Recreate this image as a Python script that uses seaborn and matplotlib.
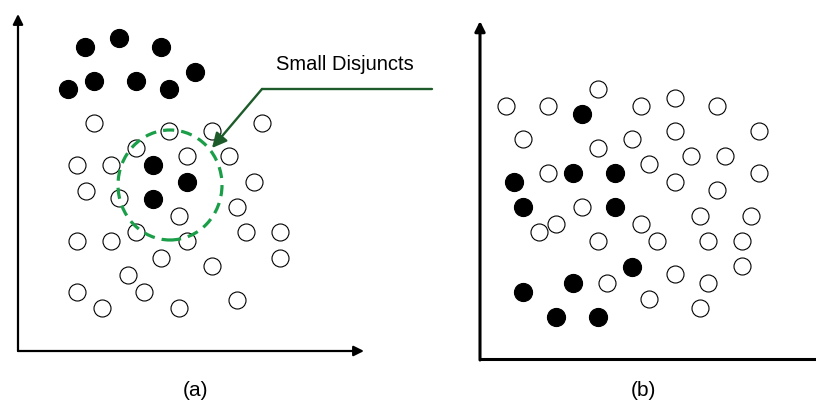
import matplotlib
matplotlib.use('Agg')
import matplotlib.pyplot as plt
from matplotlib.patches import Ellipse
import seaborn as sns
import pandas as pd

# Panel (a): feature values, origin at the axis corner
a_pos_x = [67, 101, 143, 50, 76, 118, 151, 177, 135, 169, 135]
a_pos_y = [304, 313, 304, 262, 270, 270, 262, 279, 186, 169, 152]
a_neg_x = [76, 151, 194, 244, 118, 169, 211, 59, 93, 236, 68, 101, 161, 219,
           59, 93, 118, 169, 228, 262, 262, 143, 194, 110, 59, 126, 84, 161, 219]
a_neg_y = [228, 220, 220, 228, 203, 195, 195, 186, 186, 169, 160, 153, 135, 144,
           110, 110, 119, 110, 119, 119, 93, 93, 85, 76, 59, 59, 43, 43, 51]

# Panel (b)
b_pos_x = [102, 34, 93, 135, 43, 135, 152, 93, 43, 76, 118]
b_pos_y = [245, 177, 186, 186, 152, 152, 92, 76, 67, 42, 42]
b_neg_x = [26, 68, 118, 161, 195, 237, 43, 118, 152, 195, 279, 211, 245, 68, 169,
           195, 237, 279, 102, 76, 59, 161, 177, 118, 220, 271, 228, 262, 262, 195,
           127, 228, 169, 220]
b_neg_y = [253, 253, 270, 253, 261, 253, 220, 211, 220, 228, 228, 203, 203, 186, 195,
           177, 169, 186, 152, 135, 127, 135, 118, 118, 143, 143, 118, 118, 93, 85,
           76, 76, 60, 51]

sns.set_style('white')
plt.rcParams['font.family'] = ['Liberation Sans', 'DejaVu Sans']
plt.rcParams['text.color'] = 'black'

fig = plt.figure(figsize=(8.16, 4.03), dpi=100, facecolor='white')

ax_a = fig.add_axes([18/816, 52/403, 346/816, 337/403])
ax_b = fig.add_axes([480/816, 44/403, 336/816, 338/403])


def draw_points(ax, px, py, nx, ny):
    neg = pd.DataFrame({'x': nx, 'y': ny})
    pos = pd.DataFrame({'x': px, 'y': py})
    sns.scatterplot(data=neg, x='x', y='y', ax=ax, marker='o', s=150,
                    facecolor='white', edgecolor='black', linewidth=0.8,
                    clip_on=False, zorder=3)
    sns.scatterplot(data=pos, x='x', y='y', ax=ax, marker='o', s=170,
                    color='black', edgecolor='black', linewidth=0.8,
                    clip_on=False, zorder=4)


draw_points(ax_a, a_pos_x, a_pos_y, a_neg_x, a_neg_y)
draw_points(ax_b, b_pos_x, b_pos_y, b_neg_x, b_neg_y)

ax_a.set_xlim(0, 346)
ax_a.set_ylim(0, 337)
ax_b.set_xlim(0, 336)
ax_b.set_ylim(0, 338)

for ax in (ax_a, ax_b):
    ax.axis('off')
    ax.set_facecolor('none')

# axes drawn as arrows
arrow = dict(arrowstyle='-|>', lw=1.6, color='black', mutation_scale=15,
             shrinkA=0, shrinkB=0)
ax_a.annotate('', xy=(1, 0), xytext=(0, 0), xycoords='axes fraction', arrowprops=arrow)
ax_a.annotate('', xy=(0, 1), xytext=(0, 0), xycoords='axes fraction', arrowprops=arrow)

arrow_b = dict(arrow, lw=2.2)
ax_b.annotate('', xy=(0, 1), xytext=(0, -0.003), xycoords='axes fraction', arrowprops=arrow_b)
ax_b.plot([0, 1], [0, 0], transform=ax_b.transAxes, color='black', lw=2.2,
          clip_on=False, solid_capstyle='butt')

# small disjuncts region
ax_a.add_patch(Ellipse((152, 166), 104, 110, fill=False, edgecolor='#1a9e48',
                       lw=2.3, linestyle=(0, (3.5, 2.2)), zorder=5))
ax_a.plot([414, 244], [262, 262], color='#1d5c2a', lw=1.7, clip_on=False, zorder=6)
ax_a.annotate('', xy=(194, 203), xytext=(244, 262), xycoords='data',
              arrowprops=dict(arrowstyle='-|>', lw=1.7, color='#1d5c2a',
                              mutation_scale=22, shrinkA=0, shrinkB=0), zorder=6)
ax_a.text(327, 286, 'Small Disjuncts', fontsize=14.5, ha='center', va='center')

fig.text(195/816, 1 - 391/403, '(a)', fontsize=15, ha='center', va='center')
fig.text(643/816, 1 - 391/403, '(b)', fontsize=15, ha='center', va='center')

plt.savefig('out.png', dpi=100, facecolor='white')
